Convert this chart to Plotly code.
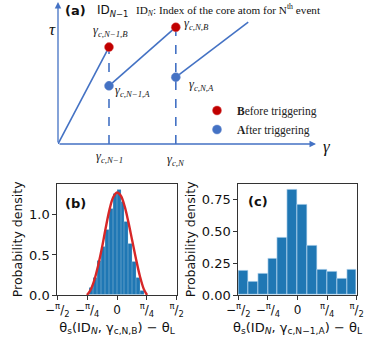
import numpy as np
import plotly.graph_objects as go

# ---------------- data ----------------
# panel (a) schematic
gamma_c = [1.0, 2.31]          # gamma_{c,N-1}, gamma_{c,N}
tau_before = [1.90, 2.29]      # tau at B points
tau_after = [1.14, 1.31]       # tau at A points
gamma_end = 3.73
tau_end = 2.39
label_before = ["γ<sub>c,N−1,B</sub>", "γ<sub>c,N,B</sub>"]
label_after = ["γ<sub>c,N−1,A</sub>", "γ<sub>c,N,A</sub>"]
label_gamma = ["γ<sub>c,N−1</sub>", "γ<sub>c,N</sub>"]

# panel (b) histogram
b_edges = [-0.74, -0.635, -0.53, -0.425, -0.32, -0.215, -0.11, -0.005,
           0.10, 0.205, 0.31, 0.415, 0.52, 0.625, 0.73]
b_heights = [0.09, 0.22, 0.43, 0.60, 0.82, 1.08, 1.27, 1.32,
             1.16, 0.92, 0.64, 0.42, 0.22, 0.06]
# fitted curve
fit_x = [-0.79, -0.7, -0.6, -0.5, -0.4, -0.3, -0.2, -0.1, 0.0,
         0.1, 0.2, 0.3, 0.4, 0.5, 0.6, 0.7, 0.79]
fit_y = [0.0, 0.06, 0.18, 0.36, 0.58, 0.83, 1.06, 1.22, 1.28,
         1.24, 1.11, 0.91, 0.68, 0.45, 0.24, 0.08, 0.0]

# panel (c) histogram (12 bins over [-pi/2, pi/2])
c_heights = [0.19, 0.104, 0.169, 0.286, 0.45, 0.826, 0.703, 0.388,
             0.195, 0.18, 0.13, 0.195]

tick_vals = [-np.pi / 2, -np.pi / 4, 0, np.pi / 4, np.pi / 2]
tick_text = ["−<sup>π</sup>/<sub>2</sub>", "−<sup>π</sup>/<sub>4</sub>", "0",
             "<sup>π</sup>/<sub>4</sub>", "<sup>π</sup>/<sub>2</sub>"]

# ---------------- figure ----------------
OFF = 0                     # body margin removed via post_script
W, H = 374, 358
BLUE = "#4472C4"
RED = "#C00000"
HIST = "#1f77b4"
SERIF = "Liberation Serif"
SANS = "DejaVu Sans"


def px(x):
    return (x - OFF) / W


def py(y):
    return 1 - (y - OFF) / H


fig = go.Figure()

# panel (a) lines
seg_x = [[0, gamma_c[0]], [gamma_c[0], gamma_c[1]], [gamma_c[1], gamma_end]]
seg_y = [[0, tau_before[0]], [tau_after[0], tau_before[1]], [tau_after[1], tau_end]]
for sx, sy in zip(seg_x, seg_y):
    fig.add_trace(go.Scatter(x=sx, y=sy, mode="lines", xaxis="x3", yaxis="y3",
                             line=dict(color=BLUE, width=1.6), showlegend=False,
                             hoverinfo="skip", cliponaxis=False))
for g, t in zip(gamma_c, tau_before):
    fig.add_trace(go.Scatter(x=[g, g], y=[0, t], mode="lines", xaxis="x3", yaxis="y3",
                             line=dict(color=BLUE, width=1.6, dash="dash"),
                             showlegend=False, hoverinfo="skip", cliponaxis=False))
fig.add_trace(go.Scatter(x=gamma_c, y=tau_before, mode="markers", xaxis="x3", yaxis="y3",
                         marker=dict(color=RED, size=9, line=dict(color="#e06060", width=0.5)),
                         name="<b>B</b>efore triggering", cliponaxis=False))
fig.add_trace(go.Scatter(x=gamma_c, y=tau_after, mode="markers", xaxis="x3", yaxis="y3",
                         marker=dict(color=BLUE, size=9, line=dict(color="#7090d0", width=0.5)),
                         name="<b>A</b>fter triggering", cliponaxis=False))

# panel (b)
b_edges_a = np.array(b_edges)
fig.add_trace(go.Bar(x=(b_edges_a[:-1] + b_edges_a[1:]) / 2, y=b_heights,
                     width=np.diff(b_edges_a), marker=dict(color=HIST,
                     line=dict(color="rgba(255,255,255,0.35)", width=0.5)),
                     xaxis="x", yaxis="y", showlegend=False))
fig.add_trace(go.Scatter(x=fit_x, y=fit_y, mode="lines", line=dict(color="#d62728", width=2.4,
                         shape="spline"), xaxis="x", yaxis="y", showlegend=False))

# panel (c)
c_edges = np.linspace(-np.pi / 2, np.pi / 2, len(c_heights) + 1)
fig.add_trace(go.Bar(x=(c_edges[:-1] + c_edges[1:]) / 2, y=c_heights,
                     width=np.diff(c_edges), marker=dict(color=HIST,
                     line=dict(color="rgba(200,225,245,0.8)", width=0.8)),
                     xaxis="x2", yaxis="y2", showlegend=False))

unit = 51.0
ax_common = dict(showline=True, mirror=True, linecolor="#333", linewidth=1,
                 ticks="outside", ticklen=4, tickcolor="#333", showgrid=False,
                 zeroline=False, automargin=False, tickangle=0,
                 tickfont=dict(family=SANS, size=13, color="#111"))
xt_font = dict(family=SANS, size=12, color="#111")

fig.update_layout(
    width=W, height=H, margin=dict(l=0, r=0, t=0, b=0, autoexpand=False),
    paper_bgcolor="white", plot_bgcolor="white", bargap=0,
    xaxis=dict(domain=[px(57.3), px(176.7)], range=[-np.pi / 2, np.pi / 2], tickvals=tick_vals,
               ticktext=tick_text, anchor="y",
               title=dict(text="θ<sub>s</sub>(ID<sub><i>N</i></sub>, γ<sub>c,N,B</sub>) − θ<sub>L</sub>",
                          font=dict(family=SANS, size=13, color="#111"), standoff=4),
               **{**ax_common, "tickfont": xt_font}),
    yaxis=dict(domain=[py(295), py(183.7)], range=[0, 1.39], tickvals=[0, 0.5, 1.0],
               tickformat=".1f", anchor="x",
               title=dict(text="Probability density", font=dict(family=SANS, size=12.5, color="#111"),
                          standoff=3),
               **ax_common),
    xaxis2=dict(domain=[px(238.3), px(356.7)], range=[-np.pi / 2, np.pi / 2], tickvals=tick_vals,
                ticktext=tick_text, anchor="y2",
                title=dict(text="θ<sub>s</sub>(ID<sub><i>N</i></sub>, γ<sub>c,N−1,A</sub>) − θ<sub>L</sub>",
                           font=dict(family=SANS, size=13, color="#111"), standoff=4),
                **{**ax_common, "tickfont": xt_font}),
    yaxis2=dict(domain=[py(295), py(183.7)], range=[0, 0.87], tickvals=[0, 0.25, 0.5, 0.75],
                tickformat=".2f", anchor="x2",
                title=dict(text="Probability density", font=dict(family=SANS, size=12.5, color="#111"),
                           standoff=3),
                **ax_common),
    xaxis3=dict(domain=[px(58), px(340)], range=[0, (340 - 58) / unit], visible=False, anchor="y3",
                automargin=False),
    yaxis3=dict(domain=[py(144), 1], range=[0, (144 - OFF) / unit], visible=False, anchor="x3",
                automargin=False),
    legend=dict(x=px(197), y=py(96), xanchor="left", yanchor="top",
                font=dict(family=SERIF, size=11.5, color="#222"), bgcolor="rgba(0,0,0,0)",
                itemwidth=30, tracegroupgap=5),
)

ann = []


def note(x, y, text, font, xanchor="center", **kw):
    d = dict(x=x, y=y, text=text, font=font, showarrow=False, xanchor=xanchor, yanchor="middle")
    d.update(kw)
    if "xref" not in kw:
        d.update(xref="paper", yref="paper")
    ann.append(d)


# axis arrows
ann.append(dict(x=px(316), y=py(144), xref="paper", yref="paper", ax=-(316 - 58), ay=0,
                showarrow=True, arrowhead=2, arrowsize=1, arrowwidth=1.3, arrowcolor=BLUE, text=""))
ann.append(dict(x=px(58), y=py(2), xref="paper", yref="paper", ax=0, ay=142,
                showarrow=True, arrowhead=2, arrowsize=1, arrowwidth=1.3, arrowcolor=BLUE, text=""))
note(px(52), py(30), "<i>τ</i>", dict(family=SERIF, size=17, color="#111"))
note(px(327), py(146), "<i>γ</i>", dict(family=SERIF, size=17, color="#111"))
# point labels
lab_font = dict(family=SERIF, size=12.5, color="#222")
note(gamma_c[0], tau_before[0], "<i>" + label_before[0] + "</i>", lab_font,
     xref="x3", yref="y3", xshift=1, yshift=16)
note(gamma_c[1], tau_before[1], "<i>" + label_before[1] + "</i>", lab_font, xanchor="left",
     xref="x3", yref="y3", xshift=6, yshift=3)
note(gamma_c[0], tau_after[0], "<i>" + label_after[0] + "</i>", lab_font, xanchor="left",
     xref="x3", yref="y3", xshift=4, yshift=-5)
note(gamma_c[1], tau_after[1], "<i>" + label_after[1] + "</i>", lab_font, xanchor="left",
     xref="x3", yref="y3", xshift=11, yshift=-8)
for g, lt, ys in zip(gamma_c, label_gamma, [-13, -16]):
    note(g, 0, "<i>" + lt + "</i>", lab_font, xref="x3", yref="y3", yshift=ys)
# header
note(px(63), py(10), "<b>(a)</b>", dict(family=SANS, size=13, color="#111"), xanchor="left")
note(px(95), py(11), "ID<sub><i>N</i>−1</sub>", dict(family=SANS, size=12, color="#111"),
     xanchor="left")
note(px(134), py(10), "ID<sub><i>N</i></sub>: Index of the core atom for N<sup>th</sup> event",
     dict(family=SERIF, size=11.2, color="#111"), xanchor="left")
# panel tags
note(px(63), py(203), "<b>(b)</b>", dict(family=SANS, size=13, color="#111"), xanchor="left")
note(px(246), py(201), "<b>(c)</b>", dict(family=SANS, size=13, color="#111"), xanchor="left")
fig.update_layout(annotations=ann)

fig.write_html("out.html", config={"displayModeBar": False},
               post_script="document.body.style.margin='0';document.body.style.overflow='hidden';")
